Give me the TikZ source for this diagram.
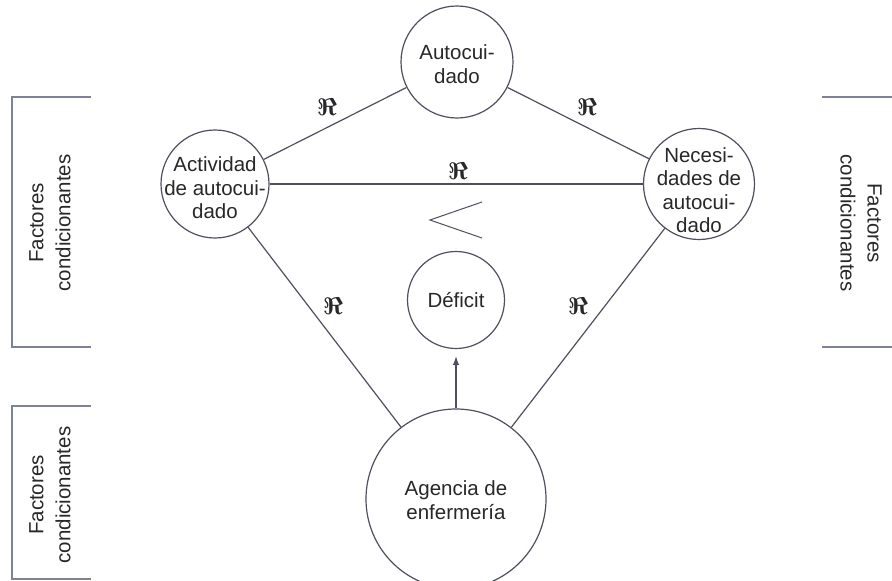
\documentclass[tikz,border=0pt]{standalone}
\usepackage{fix-cm}
\usepackage{fontspec}
\setmainfont{Liberation Sans}
\usetikzlibrary{arrows.meta}
\definecolor{ln}{RGB}{78,80,96}
\definecolor{br}{RGB}{125,130,150}
\definecolor{tx}{RGB}{40,40,42}
\begin{document}
\begin{tikzpicture}[x=1pt,y=-1pt,
  circ/.style={circle, draw=ln, line width=1.2pt, inner sep=0pt, minimum size=#1},
  txt/.style={align=center, text=tx, font=\fontsize{20.5}{23.5}\selectfont, inner sep=0pt},
  rel/.style={text=tx, font=\fontsize{24}{24}\selectfont\boldmath, inner sep=0pt},
  link/.style={draw=ln, line width=1.2pt},
  brk/.style={draw=br, line width=1.3pt},
  side/.style={align=center, text=tx, font=\fontsize{20.5}{27}\selectfont, inner sep=0pt}]
\useasboundingbox (0,0) rectangle (892,581);
\fill[white] (0,0) rectangle (892,581);
% circles
\node[circ=112pt] (auto) at (457,62) {};
\node[txt] (autot) at (457,64) {Autocui-\\dado};
\node[circ=108pt] (act) at (215,184) {};
\node[txt] (actt) at (215,188) {Actividad\\de autocui-\\dado};
\node[circ=111pt] (nec) at (699,184) {};
\node[txt] (nect) at (699,190) {Necesi-\\dades de\\autocui-\\dado};
\node[circ=97pt] (def) at (456,300) {};
\node[txt] (deft) at (456,300) {Déficit};
\node[circ=180pt] (age) at (456,499) {};
\node[txt] (aget) at (456,500) {Agencia de\\enfermería};
% connectors
\draw[link] (auto) -- (act);
\draw[link] (auto) -- (nec);
\draw[link] (act) -- (nec);
\draw[link] (act) -- (age);
\draw[link] (nec) -- (age);
\draw[link, -{Latex[length=9pt,width=6.5pt]}, shorten >=7pt] (age) -- (def);
% relation symbols
\node[rel] (r1) at (327,107) {$\Re$};
\node[rel] (r2) at (587,107) {$\Re$};
\node[rel] (r3) at (458,171) {$\Re$};
\node[rel] (r4) at (333,306) {$\Re$};
\node[rel] (r5) at (578,306) {$\Re$};
% less-than sign
\coordinate (lt1) at (482,202);
\coordinate (lt2) at (430,220);
\coordinate (lt3) at (482,238);
\draw[link, line width=1pt] (lt1) -- (lt2) -- (lt3);
% brackets
\coordinate (b1a) at (91,97);
\coordinate (b1b) at (12,97);
\coordinate (b1c) at (12,347);
\coordinate (b1d) at (91,347);
\draw[brk] (b1a) -- (b1b) -- (b1c) -- (b1d);
\coordinate (b2a) at (91,406);
\coordinate (b2b) at (12,406);
\coordinate (b2c) at (12,579);
\coordinate (b2d) at (91,579);
\draw[brk] (b2a) -- (b2b) -- (b2c) -- (b2d);
\coordinate (b3a) at (822,97);
\coordinate (b3b) at (892,97);
\coordinate (b3c) at (822,347);
\coordinate (b3d) at (892,347);
\draw[brk] (b3a) -- (b3b);
\draw[brk] (b3c) -- (b3d);
% side labels
\node[side, rotate=90] (f1) at (50,223) {Factores\\condicionantes};
\node[side, rotate=90] (f2) at (50,495) {Factores\\condicionantes};
\node[side, rotate=-90] (f3) at (861,223) {Factores\\condicionantes};
\end{tikzpicture}
\end{document}
